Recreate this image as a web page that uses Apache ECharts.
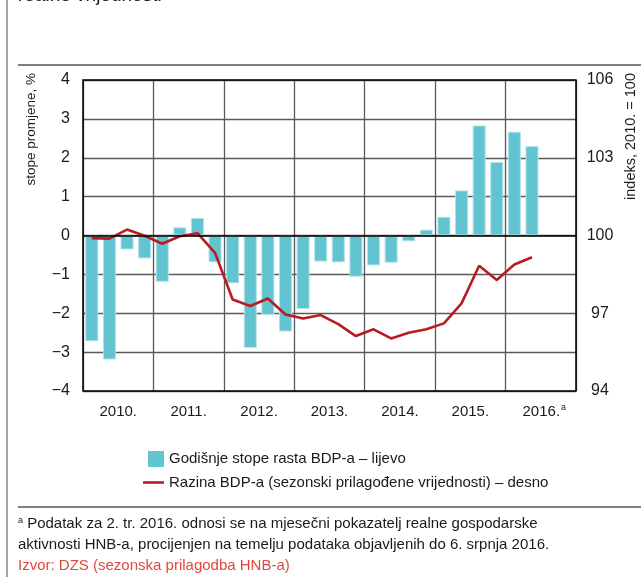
<!DOCTYPE html>
<html>
<head>
<meta charset="utf-8">
<script src="https://cdn.jsdelivr.net/npm/echarts@6/dist/echarts.min.js"></script>
<style>
  html, body { margin: 0; padding: 0; background: #fff; }
  #chart { width: 641px; height: 577px; }
</style>
</head>
<body>
<div id="chart"></div>
<script>
// quarters on the hidden axis, years on the labelled one
var quarters = ['2010Q1','2010Q2','2010Q3','2010Q4','2011Q1','2011Q2','2011Q3','2011Q4',
                '2012Q1','2012Q2','2012Q3','2012Q4','2013Q1','2013Q2','2013Q3','2013Q4',
                '2014Q1','2014Q2','2014Q3','2014Q4','2015Q1','2015Q2','2015Q3','2015Q4',
                '2016Q1','2016Q2','2016Q3','2016Q4'];
var years = ['2010.','2011.','2012.','2013.','2014.','2015.','2016.'];

// godisnje stope rasta BDP-a (%), lijevo
var growth = [-2.72,-3.19,-0.36,-0.59,-1.19,0.21,0.45,-0.69,
              -1.23,-2.89,-2.04,-2.47,-1.89,-0.67,-0.69,-1.06,
              -0.77,-0.70,-0.15,0.15,0.48,1.16,2.83,1.89,
              2.67,2.30];
// razina BDP-a, 2010. = 100, desno
var level = [99.90,99.88,100.23,99.99,99.68,99.97,100.09,99.33,
             97.53,97.28,97.57,96.95,96.80,96.93,96.58,96.12,
             96.38,96.03,96.25,96.38,96.61,97.38,98.83,98.28,
             98.88,99.16];

var leftTicks = [-4, 4, 1];
var rightTicks = [94, 106, 3];

var barName = 'Godišnje stope rasta BDP-a – lijevo';
var lineName = 'Razina BDP-a (sezonski prilagođene vrijednosti) – desno';

var font = '"Liberation Sans", Arial, sans-serif';
var txt = '#1a1a1a';
var teal = '#62c3d1';
var red = '#b81c22';

var myChart = echarts.init(document.getElementById('chart'));

var option = {
  backgroundColor: '#fff',
  animation: false,
  textStyle: { fontFamily: font },
  grid: {
    left: 83, right: 65, top: 80, bottom: 186,
    show: true, borderColor: '#000', borderWidth: 1.5, backgroundColor: 'transparent', z: 3
  },
  legend: [
    {
      left: 143, top: 446, itemWidth: 16, itemHeight: 16,
      data: [{ name: barName, icon: 'rect', itemStyle: { color: teal, borderWidth: 0 } }],
      textStyle: { fontFamily: font, fontSize: 15, color: txt }
    },
    {
      left: 138, top: 470, itemWidth: 21, itemHeight: 16,
      data: [{ name: lineName, icon: 'path://M0,0L21,0L21,2.6L0,2.6Z', itemStyle: { color: red } }],
      textStyle: { fontFamily: font, fontSize: 15, color: txt }
    }
  ],
  xAxis: [
    {
      type: 'category', data: quarters, position: 'bottom',
      axisLine: { show: false }, axisTick: { show: false }, axisLabel: { show: false },
      splitLine: { show: false }
    },
    {
      type: 'category', data: years, position: 'bottom', boundaryGap: true,
      axisLine: { show: false },
      axisTick: { show: false },
      splitLine: { show: true, interval: 0, lineStyle: { color: '#5a5a5a', width: 1.3 } },
      axisLabel: {
        interval: 0, margin: 12, fontSize: 15, lineHeight: 18, color: txt, fontFamily: font,
        formatter: function (v) { return v === '2016.' ? '{n|' + v + '}{s|a}' : v; },
        rich: {
          n: { fontSize: 15, lineHeight: 18, color: txt, fontFamily: font, padding: [0, 0, 0, 7] },
          s: { fontSize: 9, lineHeight: 18, color: txt, fontFamily: font, verticalAlign: 'top', padding: [0, 0, 6, 1] }
        }
      }
    }
  ],
  yAxis: [
    {
      type: 'value', min: leftTicks[0], max: leftTicks[1], interval: leftTicks[2],
      axisLine: { show: false }, axisTick: { show: false },
      axisLabel: {
        margin: 13, fontSize: 16, color: txt, fontFamily: font,
        formatter: function (v) { return v < 0 ? '\u2212' + Math.abs(v) : String(v); }
      },
      splitLine: { show: true, lineStyle: { color: '#5a5a5a', width: 1.3 } }
    },
    {
      type: 'value', min: rightTicks[0], max: rightTicks[1], interval: rightTicks[2],
      position: 'right',
      axisLine: { show: false }, axisTick: { show: false },
      axisLabel: { margin: 24, align: 'center', fontSize: 16, color: txt, fontFamily: font },
      splitLine: { show: false }
    }
  ],
  series: [
    {
      name: barName, type: 'bar', data: growth, xAxisIndex: 0, yAxisIndex: 0,
      barCategoryGap: '26%',
      itemStyle: { color: teal, borderColor: '#b3e1e8', borderWidth: 1 },
      markLine: {
        silent: true, symbol: 'none', label: { show: false },
        lineStyle: { color: '#000', width: 1.5, type: 'solid' },
        data: [{ yAxis: 0 }]
      },
      z: 2
    },
    {
      name: lineName, type: 'line', data: level, xAxisIndex: 0, yAxisIndex: 1,
      symbol: 'none', showSymbol: false,
      lineStyle: { color: red, width: 2.6 },
      itemStyle: { color: red },
      z: 4
    }
  ],
  graphic: [
    { type: 'text', left: 18, top: -14, style: { text: 'realne vrijednosti', font: '19px ' + font, fill: txt } },
    { type: 'line', shape: { x1: 7, y1: 0, x2: 7, y2: 577 }, style: { stroke: '#444', lineWidth: 1 } },
    { type: 'line', shape: { x1: 18, y1: 65, x2: 641, y2: 65 }, style: { stroke: '#000', lineWidth: 1.2 } },
    { type: 'line', shape: { x1: 18, y1: 507, x2: 641, y2: 507 }, style: { stroke: '#000', lineWidth: 1.2 } },
    {
      type: 'text', x: 31, y: 73, rotation: Math.PI / 2,
      style: { text: 'stope promjene, %', font: '13.5px ' + font, fill: txt, align: 'right', verticalAlign: 'middle' }
    },
    {
      type: 'text', x: 631, y: 73, rotation: Math.PI / 2,
      style: { text: 'indeks, 2010. = 100', font: '14.5px ' + font, fill: txt, align: 'right', verticalAlign: 'middle' }
    },
    {
      type: 'text', left: 18, top: 516,
      style: {
        text: '{s|a} Podatak za 2. tr. 2016. odnosi se na mjesečni pokazatelj realne gospodarske',
        font: '15px ' + font, fill: txt,
        rich: { s: { fontSize: 9, verticalAlign: 'top', padding: [0, 0, 6, 0], fontFamily: font, fill: txt } }
      }
    },
    {
      type: 'text', left: 18, top: 537,
      style: { text: 'aktivnosti HNB-a, procijenjen na temelju podataka objavljenih do 6. srpnja 2016.', font: '15px ' + font, fill: txt }
    },
    {
      type: 'text', left: 18, top: 558,
      style: { text: 'Izvor: DZS (sezonska prilagodba HNB-a)', font: '15px ' + font, fill: '#e2473d' }
    }
  ]
};

option && myChart.setOption(option);
</script>
</body>
</html>
